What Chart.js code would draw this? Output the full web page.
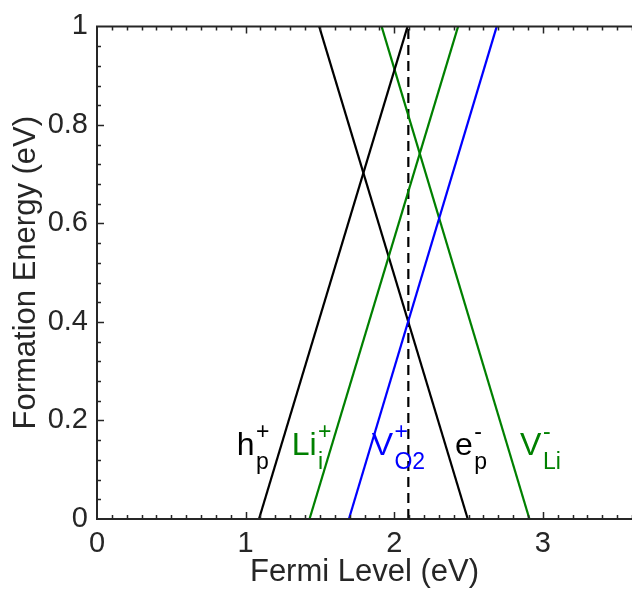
<!DOCTYPE html>
<html lang="en">
<head>
<meta charset="UTF-8">
<title>Defect formation energies</title>
<script src="https://cdn.jsdelivr.net/npm/chart.js@4.4.0/dist/chart.umd.min.js"></script>
<style>
  html, body { margin: 0; padding: 0; background: #fff; }
</style>
</head>
<body>
<canvas id="chart" width="632" height="589"></canvas>
<script>
// formation energy at the two ends of every defect line (E = 0 and E = 1)
const energy = [0, 1];
const hpX  = [1.09, 2.09];   // h_p+
const epX  = [2.495, 1.495]; // e_p-
const liX  = [1.43, 2.43];   // Li_i+
const vliX = [2.91, 1.915];  // V_Li-
const vo2X = [1.695, 2.69];  // V_O2+
const fermiX = [2.095, 2.095];

const xTicks = [0, 1, 2, 3];
const yTicks = [0, 0.2, 0.4, 0.6, 0.8, 1];

const GREEN = '#008000';
const BLUE = '#0000ff';
const AXIS = '#262626';
const FONT = "'Liberation Sans', Arial, Helvetica, sans-serif";

// label: base text, superscript charge, subscript site, anchor in data units
const defectLabels = [
  { base: 'h',  sup: '+', sub: 'p',  color: '#000', at: [0.94, 0.129] },
  { base: 'Li', sup: '+', sub: 'i',  color: GREEN,  at: [1.31, 0.129] },
  { base: 'V',  sup: '+', sub: 'O2', color: BLUE,   at: [1.848, 0.129] },
  { base: 'e',  sup: '-', sub: 'p',  color: '#000', at: [2.409, 0.129] },
  { base: 'V',  sup: '-', sub: 'Li', color: GREEN,  at: [2.847, 0.129] }
];

const pts = xs => xs.map((v, i) => ({ x: v, y: energy[i] }));

function line(xs, color, dash) {
  return {
    data: pts(xs),
    showLine: true,
    borderColor: color,
    borderWidth: 2.2,
    borderDash: dash || [],
    pointRadius: 0,
    fill: false
  };
}

// box on left/top/bottom with inward tick marks
const frame = {
  id: 'frame',
  afterDatasetsDraw(chart) {
    const { ctx, chartArea: a, scales: { x, y } } = chart;
    ctx.save();
    ctx.strokeStyle = AXIS;
    ctx.lineWidth = 2;
    ctx.beginPath();
    ctx.moveTo(a.right + 2, a.top);
    ctx.lineTo(a.left, a.top);
    ctx.lineTo(a.left, a.bottom);
    ctx.lineTo(a.right + 2, a.bottom);
    ctx.stroke();

    ctx.lineWidth = 1.5;
    ctx.beginPath();
    for (let i = 1; i <= 36; i++) {
      const px = Math.round(x.getPixelForValue(i / 10)) + 0.5;
      const len = i % 10 === 0 ? 7 : 4;
      ctx.moveTo(px, a.bottom); ctx.lineTo(px, a.bottom - len);
      ctx.moveTo(px, a.top); ctx.lineTo(px, a.top + len);
    }
    for (let j = 1; j < 25; j++) {
      const py = Math.round(y.getPixelForValue(j * 0.04)) + 0.5;
      const len = j % 5 === 0 ? 7 : 4;
      ctx.moveTo(a.left, py); ctx.lineTo(a.left + len, py);
    }
    ctx.stroke();
    ctx.restore();
  }
};

const labelPlugin = {
  id: 'defectLabels',
  afterDatasetsDraw(chart) {
    const { ctx, scales: { x, y } } = chart;
    ctx.save();
    ctx.textBaseline = 'alphabetic';
    ctx.textAlign = 'left';
    defectLabels.forEach(l => {
      const px = x.getPixelForValue(l.at[0]);
      const py = y.getPixelForValue(l.at[1]);
      ctx.fillStyle = l.color;
      ctx.font = '32px ' + FONT;
      ctx.fillText(l.base, px, py);
      const w = ctx.measureText(l.base).width + 1.5;
      ctx.font = '23px ' + FONT;
      ctx.fillText(l.sup, px + w, py - 16);
      ctx.fillText(l.sub, px + w, py + 14);
    });
    ctx.restore();
  }
};

new Chart(document.getElementById('chart'), {
  type: 'scatter',
  data: {
    datasets: [
      line(hpX, '#000'),
      line(liX, GREEN),
      line(vo2X, BLUE),
      line(epX, '#000'),
      line(vliX, GREEN),
      line(fermiX, '#000', [10, 6])
    ]
  },
  options: {
    responsive: false,
    animation: false,
    layout: { padding: { top: 24, right: 0, left: 0, bottom: 0 } },
    plugins: { legend: { display: false }, tooltip: { enabled: false } },
    scales: {
      x: {
        type: 'linear',
        position: 'bottom',
        min: 0,
        max: 3.6,
        afterFit(s) { s.height = 70; },
        afterBuildTicks(s) { s.ticks = xTicks.map(v => ({ value: v })); },
        grid: { display: false, drawTicks: false },
        border: { display: false },
        ticks: {
          color: AXIS, padding: 8, font: { family: FONT, size: 29 },
          callback: v => String(+v.toFixed(2))
        },
        title: {
          display: true,
          text: 'Fermi Level (eV)',
          color: AXIS,
          padding: { top: 0, bottom: 1 },
          font: { family: FONT, size: 31, lineHeight: 1 }
        }
      },
      y: {
        type: 'linear',
        min: 0,
        max: 1,
        afterFit(s) { s.width = 97; },
        afterBuildTicks(s) { s.ticks = yTicks.map(v => ({ value: v })); },
        grid: { display: false, drawTicks: false },
        border: { display: false },
        ticks: {
          color: AXIS, padding: 9, font: { family: FONT, size: 29 },
          callback: v => String(+v.toFixed(2))
        },
        title: {
          display: true,
          text: 'Formation Energy (eV)',
          color: AXIS,
          padding: { top: 11, bottom: 0 },
          font: { family: FONT, size: 31, lineHeight: 1 }
        }
      }
    }
  },
  plugins: [frame, labelPlugin]
});
</script>
</body>
</html>
